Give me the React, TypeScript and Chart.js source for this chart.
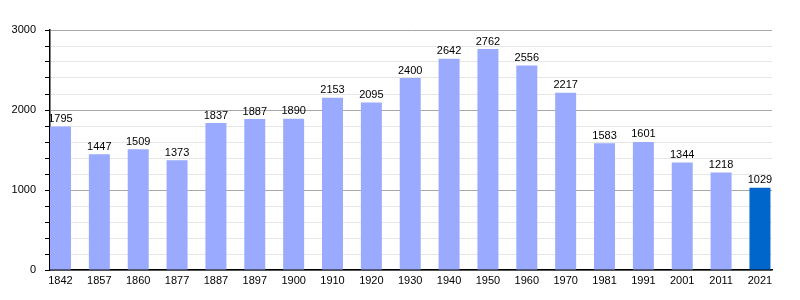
import React, { useEffect, useRef } from "react";
import { Chart, registerables } from "chart.js";

Chart.register(...registerables);

const years = ["1842", "1857", "1860", "1877", "1887", "1897", "1900", "1910", "1920", "1930", "1940", "1950", "1960", "1970", "1981", "1991", "2001", "2011", "2021"];
const population = [1795, 1447, 1509, 1373, 1837, 1887, 1890, 2153, 2095, 2400, 2642, 2762, 2556, 2217, 1583, 1601, 1344, 1218, 1029];
const yTickLabels = [0, 1000, 2000, 3000];

const BAR = "#99aaff";
const BAR_LAST = "#0066cc";
const FONT = "'Liberation Sans', Arial, sans-serif";

const valueLabels = {
  id: "valueLabels",
  afterDatasetsDraw(chart: any) {
    const ctx = chart.ctx;
    const meta = chart.getDatasetMeta(0);
    ctx.save();
    ctx.font = `11px ${FONT}`;
    ctx.fillStyle = "#000";
    ctx.textAlign = "center";
    ctx.textBaseline = "bottom";
    meta.data.forEach((el: any, i: number) => {
      ctx.fillText(String(population[i]), el.x, el.y - 2);
    });
    ctx.restore();
  },
};

export default function App() {
  const ref = useRef<HTMLCanvasElement>(null);
  useEffect(() => {
    if (!ref.current) return;
    const chart = new Chart(ref.current, {
      type: "bar",
      data: {
        datasets: [
          {
            data: population.map((v, i) => ({ x: i, y: v })),
            backgroundColor: population.map((_, i) => (i === population.length - 1 ? BAR_LAST : BAR)),
            barPercentage: 0.54,
            categoryPercentage: 1,
          },
        ],
      },
      options: {
        animation: false,
        responsive: true,
        maintainAspectRatio: false,
        layout: { padding: { left: 0, right: 28, top: 30, bottom: 0 } },
        plugins: { legend: { display: false }, tooltip: { enabled: false } },
        scales: {
          x: {
            type: "linear",
            offset: false,
            min: -0.27,
            max: 18.31,
            afterBuildTicks: (s: any) => {
              s.ticks = years.map((_, i) => ({ value: i }));
            },
            afterFit: (s: any) => {
              s.height = 30;
            },
            grid: { display: false, drawTicks: false },
            border: { display: true, color: "#000", width: 1.5 },
            ticks: {
              autoSkip: false,
              maxRotation: 0,
              padding: 4,
              color: "#000",
              font: { family: FONT, size: 11 },
              callback: (v: any) => years[v as number] ?? "",
            },
          },
          y: {
            min: 0,
            max: 3000,
            afterBuildTicks: (s: any) => {
              const t = [];
              for (let v = 0; v <= 3000; v += 200) t.push({ value: v });
              s.ticks = t;
            },
            afterFit: (s: any) => {
              s.width = 50;
            },
            grid: {
              color: (c: any) => (c.tick && c.tick.value % 1000 === 0 ? "#a8a8a8" : "#e6e6e6"),
              tickColor: "#000",
              tickLength: 5,
            },
            border: { display: true, color: "#000", width: 1.5 },
            ticks: {
              autoSkip: false,
              padding: 9,
              color: "#000",
              font: { family: FONT, size: 11 },
              callback: (v: any) => (yTickLabels.includes(v as number) ? String(v) : ""),
            },
          },
        },
      },
      plugins: [valueLabels],
    });
    return () => chart.destroy();
  }, []);
  return (
    <div style={{ position: "fixed", left: 0, top: 0, width: 800, height: 300, background: "#fff" }}>
      <canvas ref={ref} />
    </div>
  );
}
